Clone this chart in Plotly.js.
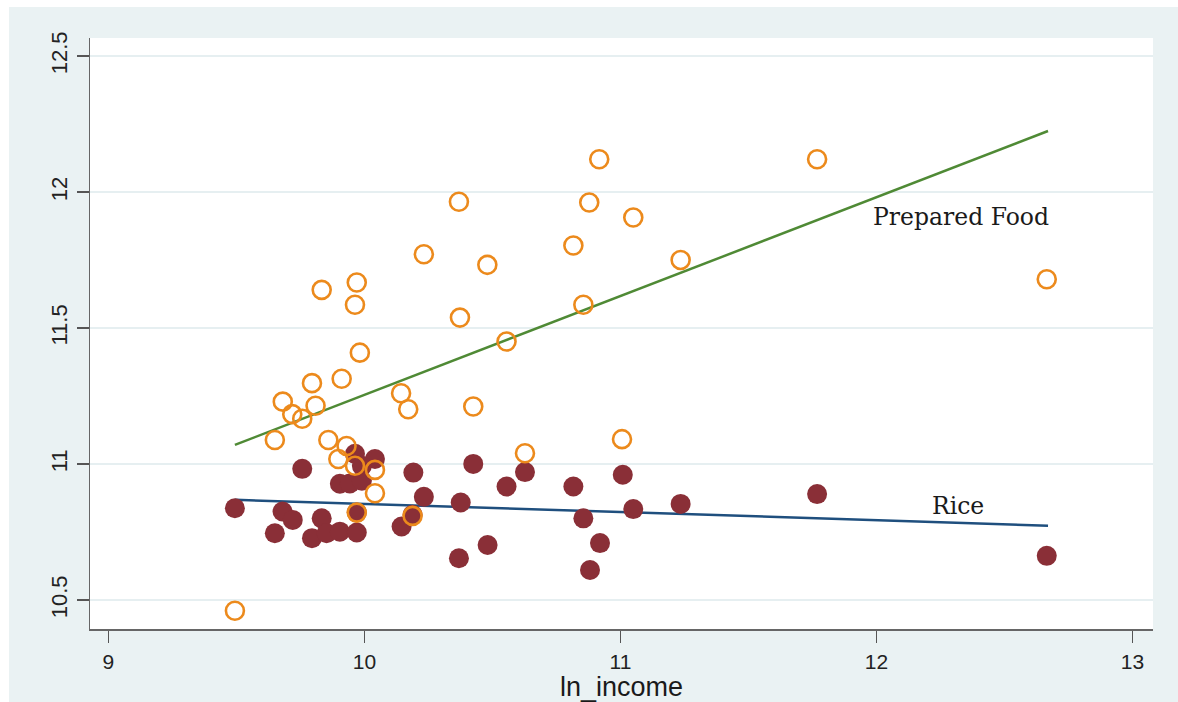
<!DOCTYPE html>
<html>
<head>
<meta charset="utf-8">
<script src="https://cdn.plot.ly/plotly-3.0.1.min.js"></script>
<style>
  html, body { margin: 0; padding: 0; background: #ffffff; }
  #chart { position: absolute; left: 9px; top: 7px; width: 1169px; height: 695px; }
</style>
</head>
<body>
<div id="chart"></div>
<script>
// Prepared Food (hollow orange circles)
const foodIncome = [9.494, 9.650, 9.681, 9.718, 9.757, 9.809, 9.795, 9.833, 9.859, 9.911,
  9.970, 9.963, 9.982, 9.930, 9.898, 9.963, 10.041, 10.041, 9.970, 10.143,
  10.171, 10.188, 10.232, 10.369, 10.373, 10.480, 10.555, 10.425, 10.627, 11.006,
  10.816, 10.878, 10.917, 11.050, 10.855, 11.235, 11.768, 12.665];
const foodSpend = [10.461, 11.089, 11.230, 11.184, 11.167, 11.215, 11.298, 11.641, 11.089, 11.314,
  11.668, 11.586, 11.410, 11.067, 11.019, 10.994, 10.979, 10.893, 10.822, 11.261,
  11.202, 10.810, 11.772, 11.965, 11.539, 11.733, 11.451, 11.212, 11.040, 11.092,
  11.804, 11.962, 12.121, 11.907, 11.586, 11.751, 12.121, 11.680];

// Rice (filled maroon circles)
const riceIncome = [9.494, 9.650, 9.680, 9.720, 9.757, 9.795, 9.833, 9.852, 9.904, 9.970,
  9.904, 9.943, 9.990, 9.963, 10.041, 9.970, 10.145, 10.188, 10.191, 10.232,
  10.425, 10.627, 10.555, 10.376, 10.369, 10.481, 10.816, 10.855, 10.920, 10.881,
  11.009, 11.050, 11.235, 11.768, 12.665, 9.990];
const riceSpend = [10.838, 10.746, 10.826, 10.795, 10.983, 10.728, 10.801, 10.746, 10.752, 10.749,
  10.928, 10.929, 10.939, 11.038, 11.019, 10.822, 10.771, 10.814, 10.969, 10.880,
  11.001, 10.971, 10.918, 10.859, 10.654, 10.703, 10.918, 10.801, 10.710, 10.611,
  10.961, 10.835, 10.854, 10.890, 10.663, 10.994];

// Fitted lines (endpoints)
const fitX = [9.494, 12.67];
const foodFit = [11.071, 12.225];
const riceFit = [10.869, 10.774];

// Labels
const xTicks = [9, 10, 11, 12, 13];
const yTicks = [10.5, 11, 11.5, 12, 12.5];
const yTickText = ['10.5', '11', '11.5', '12', '12.5'];
const seriesLabels = ['Prepared Food', 'Rice'];
const labelX = [12.33, 12.317];
const labelY = [11.91, 10.847];

const traces = [
  { x: fitX, y: riceFit, type: 'scatter', mode: 'lines',
    line: { color: '#1f4f7e', width: 2.5 }, hoverinfo: 'skip' },
  { x: fitX, y: foodFit, type: 'scatter', mode: 'lines',
    line: { color: '#4f8a35', width: 2.5 }, hoverinfo: 'skip' },
  { x: riceIncome, y: riceSpend, type: 'scatter', mode: 'markers',
    marker: { symbol: 'circle', size: 20, color: '#8a2f37', line: { width: 0 } } },
  { x: foodIncome, y: foodSpend, type: 'scatter', mode: 'markers',
    marker: { symbol: 'circle-open', size: 18, color: '#ec8a1c', line: { width: 2.6, color: '#ec8a1c' } } }
];

const layout = {
  width: 1169, height: 695,
  margin: { l: 81, r: 25, t: 31, b: 73 },
  paper_bgcolor: '#eaf2f3',
  plot_bgcolor: '#ffffff',
  showlegend: false,
  font: { family: 'Liberation Sans, Arial, sans-serif', color: '#222222' },
  xaxis: {
    range: [8.928, 13.08],
    tickvals: xTicks,
    ticktext: xTicks.map(String),
    showgrid: false, zeroline: false,
    showline: true, linecolor: '#666666', linewidth: 1.5,
    ticks: 'outside', ticklen: 12, tickwidth: 1.5, tickcolor: '#555555',
    ticklabelstandoff: 1,
    tickfont: { size: 21, color: '#222222' },
    title: { text: 'ln_income', font: { size: 27, color: '#1a1a1a' }, standoff: 5 },
    fixedrange: true
  },
  yaxis: {
    range: [10.394, 12.567],
    tickvals: yTicks,
    ticktext: yTickText,
    tickangle: -90,
    showgrid: true, gridcolor: '#e6eff1', gridwidth: 2,
    zeroline: false,
    showline: true, linecolor: '#666666', linewidth: 1.5,
    ticks: 'outside', ticklen: 12, tickwidth: 1.5, tickcolor: '#555555',
    ticklabelstandoff: 1,
    tickfont: { size: 22, color: '#222222' },
    fixedrange: true
  },
  annotations: seriesLabels.map((t, i) => ({
    x: labelX[i], y: labelY[i], xref: 'x', yref: 'y',
    text: t, showarrow: false,
    font: { family: 'DejaVu Serif, serif', size: 23.5, color: '#1a1a1a' }
  }))
};

Plotly.newPlot('chart', traces, layout, { displayModeBar: false, staticPlot: true });
</script>
</body>
</html>
